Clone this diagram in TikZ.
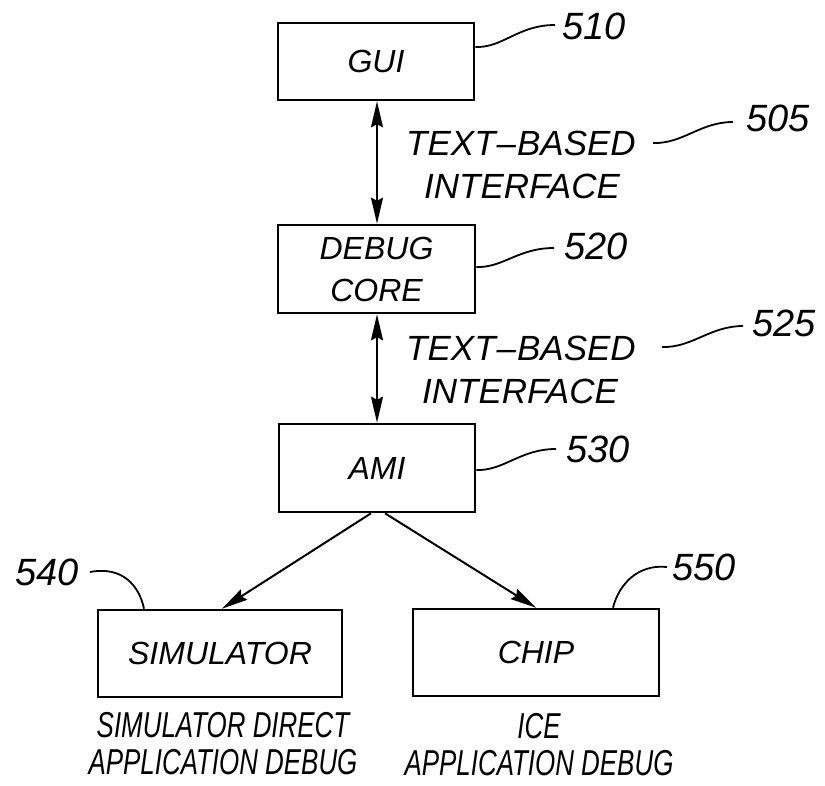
\documentclass[tikz,border=0pt]{standalone}
\usepackage{fontspec}
\setmainfont{Liberation Sans}
\newfontfamily\narrowfont{Liberation Sans}[FakeStretch=0.72]
\usetikzlibrary{arrows.meta}
\tikzset{
  blk/.style={draw, line width=2.6pt, rectangle, inner sep=0pt, font=\fontsize{32}{42}\selectfont\itshape, align=center},
  ifc/.style={font=\fontsize{35}{43}\selectfont\itshape, align=left, inner sep=0pt, anchor=west},
  num/.style={font=\fontsize{38}{40}\selectfont\itshape, inner sep=0pt, anchor=base west},
  captxt/.style={font=\narrowfont\fontsize{36}{37}\selectfont\itshape, align=center, inner sep=0pt},
  lead/.style={line width=1.8pt},
  headtip/.tip={Stealth[length=26pt, width=12pt, inset=3pt]},
  conn/.style={line width=2pt, -headtip},
  bconn/.style={line width=2pt, headtip-headtip}
}
\begin{document}
\begin{tikzpicture}[x=1pt, y=-1pt]
\useasboundingbox (0,0) rectangle (825,786);
% boxes
\node[blk, minimum width=196pt, minimum height=77pt] (gui) at (376,61.5) {GUI};
\node[blk, minimum width=197pt, minimum height=88pt] (core) at (376.5,269) {DEBUG\\CORE};
\node[blk, minimum width=196pt, minimum height=88pt] (ami) at (377,468) {AMI};
\node[blk, minimum width=244pt, minimum height=87pt] (sim) at (220,653.5) {\raisebox{-4pt}{SIMULATOR}};
\node[blk, minimum width=246pt, minimum height=87pt] (chip) at (536,652.5) {CHIP};
% connectors
\coordinate (v1) at (377,0);
\draw[bconn] (gui.south -| v1) -- (core.north -| v1);
\draw[bconn] (core.south -| v1) -- (ami.north -| v1);
\coordinate (al) at (371,0);
\coordinate (ar) at (385,0);
\coordinate (st) at (222,0);
\coordinate (ct) at (536,0);
\draw[conn] (ami.south -| al) -- (sim.north -| st);
\draw[conn] (ami.south -| ar) -- (chip.north -| ct);
% interface labels
\node[ifc] (if1) at (406,165) {TEXT\kern1pt--\kern1ptBASED\\\hspace*{18pt}INTERFACE};
\node[ifc] (if2) at (406,370) {TEXT\kern1pt--\kern1ptBASED\\\hspace*{16pt}INTERFACE};
% reference numbers
\node[num] (n510) at (562,40) {510};
\node[num] (n505) at (746,132) {505};
\node[num] (n520) at (564,260) {520};
\node[num] (n525) at (752,337) {525};
\node[num] (n530) at (566,462) {530};
\node[num, anchor=base east] (n540) at (79,585) {540};
\node[num] (n550) at (672,580) {550};
% leader end points
\coordinate (e510) at (555,25);
\coordinate (s505) at (653,143);
\coordinate (e505) at (733,122);
\coordinate (e520) at (554,248);
\coordinate (s525) at (662,347);
\coordinate (e525) at (743,326);
\coordinate (e530) at (556,449);
\coordinate (s540) at (90,572);
\coordinate (s550) at (667,567);
% leaders
\draw[lead] (gui.east |- 0,47) .. controls (503,48) and (518,25) .. (e510);
\draw[lead] (s505) .. controls (683,144) and (700,122) .. (e505);
\draw[lead] (core.east |- 0,267) .. controls (503,268) and (518,248) .. (e520);
\draw[lead] (s525) .. controls (692,348) and (710,326) .. (e525);
\draw[lead] (ami.east |- 0,470) .. controls (504,471) and (520,449) .. (e530);
\draw[lead] (s540) .. controls (122,566) and (139,585) .. (sim.north -| 144,0);
\draw[lead] (s550) .. controls (638,564) and (619,584) .. (chip.north -| 613,0);
% captions
\node[captxt] (c540) at (223,744) {SIMULATOR DIRECT\\APPLICATION DEBUG};
\node[captxt] (c550) at (539,745) {ICE\\APPLICATION DEBUG};
\end{tikzpicture}
\end{document}
